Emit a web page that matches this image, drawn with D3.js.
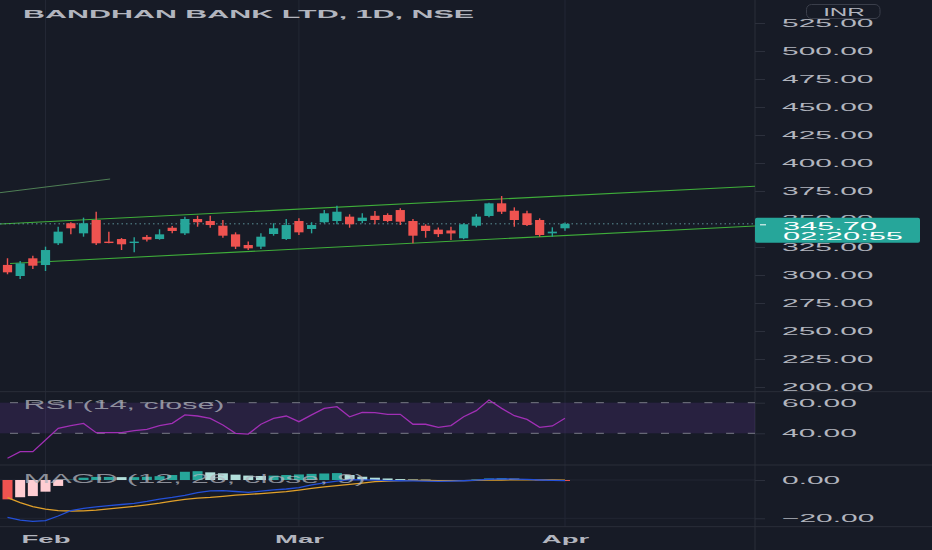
<!DOCTYPE html>
<html>
<head>
<meta charset="utf-8">
<script src="https://cdn.jsdelivr.net/npm/d3@7"></script>
<style>
  html, body { margin: 0; padding: 0; background: #171b26; overflow: hidden; }
  text { font-family: 'Liberation Sans', Arial, sans-serif; }
</style>
</head>
<body>
<script>
// Data
var dates = ['2022-01-27', '2022-01-28', '2022-01-31',
  '2022-02-01', '2022-02-02', '2022-02-03', '2022-02-04', '2022-02-07', '2022-02-08', '2022-02-09',
  '2022-02-10', '2022-02-11', '2022-02-14', '2022-02-15', '2022-02-16', '2022-02-17', '2022-02-18',
  '2022-02-21', '2022-02-22', '2022-02-23', '2022-02-24', '2022-02-25', '2022-02-28',
  '2022-03-02', '2022-03-03', '2022-03-04', '2022-03-07', '2022-03-08', '2022-03-09', '2022-03-10',
  '2022-03-11', '2022-03-14', '2022-03-15', '2022-03-16', '2022-03-17', '2022-03-21', '2022-03-22',
  '2022-03-23', '2022-03-24', '2022-03-25', '2022-03-28', '2022-03-29', '2022-03-30', '2022-03-31',
  '2022-04-01'];
var opens = [309, 299.1, 314.9, 308.9, 328.3, 346.2, 337.2, 349.1, 329.8, 332.1, 328.9, 334, 332.1, 342.2, 337.2,
  350, 348.2, 344, 336.3, 326.8, 325.3, 336.6, 332.1, 348.2, 341.1, 347.1, 348.2, 352.1, 348.2, 352.9,
  353.6, 358, 348.2, 344, 340.5, 339.8, 332.8, 344, 352.7, 364, 357.4, 355.1, 349.1, 337.2, 341.7];
var highs = [315, 312.5, 317.2, 325.3, 343.1, 347.1, 351.2, 356.5, 338.7, 333, 333.8, 335.7, 340.8, 343.7, 352.1,
  352.9, 352.9, 349.1, 338.1, 329.8, 337.2, 346.2, 350, 350.6, 347.1, 358, 361.9, 354.2, 355.1, 357.1,
  355.1, 359.5, 350, 345.3, 342.5, 343.1, 346.2, 354.5, 364.6, 370.5, 360.4, 357.4, 350.6, 342.6, 346.8];
var lows = [300.6, 296.4, 305.4, 303.6, 326.8, 336.4, 334.2, 326.8, 328.3, 322.3, 320.3, 329.8, 331.5, 337.2, 335.7,
  343.1, 342.2, 333.3, 323.2, 322.3, 323.2, 335.1, 331.3, 335.7, 337.2, 346.2, 345.3, 342.2, 346.2, 345.3,
  347.1, 344.6, 328.3, 333.3, 334, 331.3, 331.9, 342.6, 351.5, 354.5, 343.1, 343.7, 334.2, 334.2, 339.6];
var closes = [302.4, 310.4, 308.3, 322.3, 338.7, 341.7, 346.2, 328.3, 328.9, 327.4, 329.8, 331.6, 336.3, 339.3, 350,
  347.1, 344.6, 335.1, 325.3, 323.8, 334.2, 341.7, 344.6, 338.1, 344.6, 355.1, 356.5, 345.3, 351.2, 349.1,
  348.2, 347.6, 335.1, 339.3, 336.5, 337.1, 345.3, 352.1, 364, 356.5, 349.1, 344.6, 335.7, 338.7, 345.7];
var rsi = [23.7, 28, 28, 35.6, 43.3, 45, 46.5, 40.4, 40.4, 40.4, 41.7, 42.6, 45, 46.5, 52, 51.3, 49.8, 45.4, 40, 39.5,
  45.9, 49.8, 51.3, 47.6, 52, 56.3, 57.4, 50.8, 53.7, 53.5, 52.4, 52.4, 45.9, 45.9, 43.9, 45, 50.8, 54.8, 61.8,
  56.3, 51.5, 49.1, 43.9, 44.8, 49.8];
var macd = [-19.5, -20.9, -21.6, -21.2, -18.8, -16, -14.8, -14, -13.4, -12.8, -12.2, -11.2, -10, -9.1, -8, -6.6,
  -5.7, -5.6, -6, -6.5, -5.8, -5.2, -4.7, -4, -2.6, -1.5, -0.6, 0.2, 0.1, -0.1, -0.3, -0.4, -0.5, -0.6, -0.7,
  -0.6, -0.4, -0.1, 0.4, 0.6, 0.5, 0.3, 0, -0.2, -0.3];
var signal = [-9.2, -11.8, -13.9, -15.2, -16, -16.2, -16.1, -15.7, -15.1, -14.4, -13.8, -13, -12.1, -11, -10.1,
  -9.5, -9.1, -8.5, -7.9, -7.5, -7.1, -6.6, -6.1, -5.3, -4.4, -3.6, -2.9, -2.3, -1.6, -0.9, -0.6, -0.3, -0.2,
  -0.2, -0.3, -0.3, -0.3, -0.2, -0.1, 0, 0.1, 0.1, 0.1, 0, -0.1];
var hist = [-10.1, -9, -8.4, -6.1, -3.1, 0.2, 1.2, 1.6, 1.6, 1.5, 1.5, 1.7, 2.0, 2.6, 4.3, 4.6, 4.0, 3.5, 2.8, 2.3,
  2.1, 2.3, 2.6, 2.9, 3.2, 3.4, 3.6, 2.6, 1.7, 1.2, 0.8, 0.5, 0.3, 0.2, -0.2, -0.3, -0.1, 0.3, 0.8, 1.0, 0.7, 0.4,
  -0.2, -0.4, -0.5];

// Drawings, as [bar index, price]
var channelUpper = [[-0.6, 345.5], [59, 379.2]];
var channelLower = [[0.2, 310.3], [59, 343.75]];
var oldTrend = [[-0.6, 373.5], [8.1, 385.7]];

var priceTicks = [200, 225, 250, 275, 300, 325, 350, 375, 400, 425, 450, 475, 500, 525];
var rsiTicks = [60, 40];
var rsiBands = [60, 40];
var macdTicks = [0, -20];
var lastPrice = 345.70;
var countdown = '02:20:55';
var title = 'BANDHAN BANK LTD, 1D, NSE';

// Layout
var WIDTH = 932, HEIGHT = 550;
var PLOT_RIGHT = 755;
var MAIN_BOTTOM = 391.7, RSI_BOTTOM = 465, MACD_BOTTOM = 526.7;
var STRETCH = 2.6;

var BG = '#171b26';
var LINE = '#2a2e39';
var TEXT = '#b2b5be';
var UP = '#26a69a', DOWN = '#ef5350';

var x = d3.scaleLinear().domain([0, dates.length - 1]).range([7.5, 565]);
var yPrice = d3.scaleLinear().domain([200, 525]).range([387, 23]);
var yRsi = d3.scaleLinear().domain([40, 60]).range([433.3, 402.7]);
var yMacd = d3.scaleLinear().domain([-20, 0]).range([518.3, 480]);

var parse = d3.timeParse('%Y-%m-%d');
var monthFmt = d3.timeFormat('%b');
var monthStarts = d3.range(1, dates.length).filter(function (i) {
  return parse(dates[i]).getMonth() !== parse(dates[i - 1]).getMonth();
});

function widen(sel, k) {
  sel.each(function () {
    var w = this.getComputedTextLength();
    d3.select(this).attr('textLength', w * k).attr('lengthAdjust', 'spacingAndGlyphs');
  });
}

var svg = d3.select('body').append('svg')
  .attr('width', WIDTH)
  .attr('height', HEIGHT);

svg.append('rect').attr('width', WIDTH).attr('height', HEIGHT).attr('fill', BG);

var defs = svg.append('defs');
[['clip-main', 0, MAIN_BOTTOM], ['clip-rsi', MAIN_BOTTOM, RSI_BOTTOM], ['clip-macd', RSI_BOTTOM, MACD_BOTTOM]]
  .forEach(function (c) {
    defs.append('clipPath').attr('id', c[0]).append('rect')
      .attr('x', 0).attr('y', c[1]).attr('width', PLOT_RIGHT).attr('height', c[2] - c[1]);
  });
// used inside the translated axis group, so local coordinates
defs.append('clipPath').attr('id', 'clip-main-axis').append('rect')
  .attr('x', 0).attr('y', 0).attr('width', WIDTH - PLOT_RIGHT).attr('height', MAIN_BOTTOM);

// Grid and separators
svg.append('g').selectAll('line').data(monthStarts).join('line')
  .attr('x1', function (i) { return x(i); })
  .attr('x2', function (i) { return x(i); })
  .attr('y1', 0).attr('y2', MACD_BOTTOM)
  .attr('stroke', '#232734').attr('stroke-width', 1);

svg.append('g').selectAll('line').data(macdTicks).join('line')
  .attr('x1', 0).attr('x2', PLOT_RIGHT)
  .attr('y1', function (d) { return yMacd(d); })
  .attr('y2', function (d) { return yMacd(d); })
  .attr('stroke', '#222632');

svg.append('g').selectAll('line').data([MAIN_BOTTOM, RSI_BOTTOM, MACD_BOTTOM]).join('line')
  .attr('x1', 0).attr('x2', WIDTH)
  .attr('y1', function (d) { return d; }).attr('y2', function (d) { return d; })
  .attr('stroke', LINE);

svg.append('line')
  .attr('x1', PLOT_RIGHT).attr('x2', PLOT_RIGHT).attr('y1', 0).attr('y2', HEIGHT)
  .attr('stroke', LINE);

// Main pane
var main = svg.append('g').attr('clip-path', 'url(#clip-main)');
var priceLine = d3.line()
  .x(function (d) { return x(d[0]); })
  .y(function (d) { return yPrice(d[1]); });

main.append('path').attr('d', priceLine(oldTrend))
  .attr('stroke', '#4f7f55').attr('stroke-width', 1).attr('fill', 'none');
main.append('path').attr('d', priceLine(channelUpper))
  .attr('stroke', '#3fae3a').attr('stroke-width', 1.1).attr('fill', 'none');
main.append('path').attr('d', priceLine(channelLower))
  .attr('stroke', '#3fae3a').attr('stroke-width', 1.1).attr('fill', 'none');

main.append('line')
  .attr('x1', 0).attr('x2', PLOT_RIGHT)
  .attr('y1', yPrice(lastPrice)).attr('y2', yPrice(lastPrice))
  .attr('stroke', '#5b8f95').attr('stroke-width', 1).attr('stroke-dasharray', '1.5,3');

var candles = main.append('g').selectAll('g').data(d3.range(dates.length)).join('g')
  .attr('fill', function (i) { return closes[i] >= opens[i] ? UP : DOWN; })
  .attr('stroke', function (i) { return closes[i] >= opens[i] ? UP : DOWN; });

candles.append('line')
  .attr('x1', function (i) { return x(i); })
  .attr('x2', function (i) { return x(i); })
  .attr('y1', function (i) { return yPrice(highs[i]); })
  .attr('y2', function (i) { return yPrice(lows[i]); })
  .attr('stroke-width', 1.4);

candles.append('rect')
  .attr('x', function (i) { return x(i) - 4.6; })
  .attr('width', 9.2)
  .attr('y', function (i) { return yPrice(Math.max(opens[i], closes[i])); })
  .attr('height', function (i) { return Math.max(1.4, Math.abs(yPrice(opens[i]) - yPrice(closes[i]))); })
  .attr('stroke', 'none');

// RSI pane
var rsiPane = svg.append('g').attr('clip-path', 'url(#clip-rsi)');
rsiPane.append('rect')
  .attr('x', 0).attr('width', PLOT_RIGHT)
  .attr('y', yRsi(rsiBands[0]))
  .attr('height', yRsi(rsiBands[1]) - yRsi(rsiBands[0]))
  .attr('fill', '#7e3fc2').attr('fill-opacity', 0.17);
rsiPane.selectAll('line.band').data(rsiBands).join('line')
  .attr('class', 'band')
  .attr('x1', 0).attr('x2', PLOT_RIGHT)
  .attr('y1', function (d) { return yRsi(d); })
  .attr('y2', function (d) { return yRsi(d); })
  .attr('stroke', '#787b86').attr('stroke-dasharray', '8,13.7').attr('stroke-dashoffset', -10);
rsiPane.append('path')
  .attr('d', d3.line().x(function (d, i) { return x(i); }).y(function (d) { return yRsi(d); })(rsi))
  .attr('stroke', '#a12fb5').attr('stroke-width', 1.3).attr('fill', 'none');

// MACD pane
var macdPane = svg.append('g').attr('clip-path', 'url(#clip-macd)');
macdPane.selectAll('rect').data(hist).join('rect')
  .attr('x', function (d, i) { return x(i) - 5; })
  .attr('width', 10)
  .attr('y', function (d) { return yMacd(Math.max(0, d)); })
  .attr('height', function (d) { return Math.abs(yMacd(d) - yMacd(0)); })
  .attr('fill', function (d, i) {
    var prev = i > 0 ? hist[i - 1] : d;
    if (d >= 0) return d >= prev ? '#26a69a' : '#b2dfdb';
    return (i === 0 || d < prev) ? '#ef5350' : '#ffcdd2';
  });
var seriesLine = d3.line().x(function (d, i) { return x(i); }).y(function (d) { return yMacd(d); });
macdPane.append('path').attr('d', seriesLine(signal))
  .attr('stroke', '#e0a02a').attr('stroke-width', 1.3).attr('fill', 'none');
macdPane.append('path').attr('d', seriesLine(macd))
  .attr('stroke', '#2450d8').attr('stroke-width', 1.3).attr('fill', 'none');

// Pane titles
svg.append('text').text(title)
  .attr('x', 23).attr('y', 17.5)
  .attr('font-size', 11).attr('font-weight', 'bold').attr('fill', TEXT)
  .attr('textLength', 451).attr('lengthAdjust', 'spacingAndGlyphs');
svg.append('text').text('RSI (14, close)')
  .attr('x', 23.5).attr('y', 409)
  .attr('font-size', 12.5).attr('fill', TEXT).attr('fill-opacity', 0.75)
  .attr('textLength', 201).attr('lengthAdjust', 'spacingAndGlyphs');
svg.append('text').text('MACD (12, 26, close, 9)')
  .attr('x', 23.5).attr('y', 482.7)
  .attr('font-size', 12).attr('fill', TEXT).attr('fill-opacity', 0.75)
  .attr('textLength', 342).attr('lengthAdjust', 'spacingAndGlyphs');

// Right axes
function styleAxis(g) {
  g.select('.domain').remove();
  g.selectAll('.tick line').attr('stroke', '#2c303c');
  g.selectAll('.tick text')
    .attr('fill', TEXT).attr('font-size', 11.5)
    .attr('font-family', "'Liberation Sans', Arial, sans-serif")
    .call(widen, STRETCH);
}

svg.append('g')
  .attr('transform', 'translate(' + PLOT_RIGHT + ',0)')
  .attr('clip-path', 'url(#clip-main-axis)')
  .call(d3.axisRight(yPrice).tickValues(priceTicks).tickFormat(d3.format('.2f')).tickSize(10).tickPadding(17))
  .call(styleAxis);

svg.append('g')
  .attr('transform', 'translate(' + PLOT_RIGHT + ',0)')
  .call(d3.axisRight(yRsi).tickValues(rsiTicks).tickFormat(d3.format('.2f')).tickSize(10).tickPadding(17))
  .call(styleAxis);

svg.append('g')
  .attr('transform', 'translate(' + PLOT_RIGHT + ',0)')
  .call(d3.axisRight(yMacd).tickValues(macdTicks).tickFormat(d3.format('.2f')).tickSize(10).tickPadding(17))
  .call(styleAxis);

// Currency badge
svg.append('rect')
  .attr('x', 806.5).attr('y', 4.5).attr('width', 73.5).attr('height', 14).attr('rx', 5)
  .attr('fill', BG).attr('stroke', '#3a3e4a');
svg.append('text').text('INR')
  .attr('x', 844).attr('y', 15.5).attr('text-anchor', 'middle')
  .attr('font-size', 11).attr('fill', TEXT)
  .call(widen, 2.2);

// Last price label
var py = yPrice(lastPrice);
svg.append('rect')
  .attr('x', PLOT_RIGHT).attr('y', py - 6).attr('width', 165).attr('height', 25).attr('rx', 2)
  .attr('fill', UP);
svg.append('line')
  .attr('x1', PLOT_RIGHT + 5).attr('x2', PLOT_RIGHT + 11).attr('y1', py + 1).attr('y2', py + 1)
  .attr('stroke', '#fff');
svg.append('text').text(d3.format('.2f')(lastPrice))
  .attr('x', 783).attr('y', py + 5.7)
  .attr('font-size', 11.5).attr('fill', '#fff')
  .attr('textLength', 94).attr('lengthAdjust', 'spacingAndGlyphs');
svg.append('text').text(countdown)
  .attr('x', 783).attr('y', py + 16.2)
  .attr('font-size', 11.5).attr('fill', '#fff')
  .attr('textLength', 120).attr('lengthAdjust', 'spacingAndGlyphs');

// Time axis
svg.append('g')
  .attr('transform', 'translate(0,' + MACD_BOTTOM + ')')
  .call(d3.axisBottom(x).tickValues(monthStarts).tickFormat(function (i) { return monthFmt(parse(dates[i])); })
    .tickSize(0).tickPadding(9))
  .call(function (g) {
    g.select('.domain').remove();
    g.selectAll('.tick text')
      .attr('fill', TEXT).attr('font-size', 11).attr('font-weight', 'bold')
      .attr('font-family', "'Liberation Sans', Arial, sans-serif")
      .call(widen, 2.5);
  });
</script>
</body>
</html>
